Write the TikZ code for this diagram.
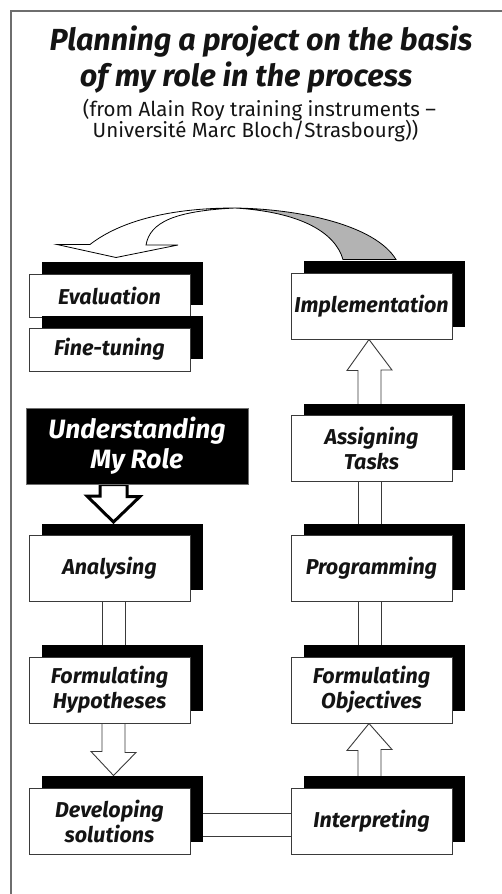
\documentclass[tikz,border=0pt]{standalone}
\usepackage{fontspec}
\setmainfont{Fira Sans}
\usetikzlibrary{calc,shadows}
\pgfdeclarelayer{bg}
\pgfsetlayers{bg,main}
\definecolor{framecol}{HTML}{6E6E6E}
\definecolor{boxline}{HTML}{3A3A3A}
\definecolor{ink}{HTML}{141414}
\definecolor{ribbon}{HTML}{B3B3B3}
\tikzset{
  stepbox/.style={draw=boxline, fill=white, line width=1pt, minimum width=161pt,
    minimum height=66pt, inner sep=0pt, align=center, text=ink,
    font=\fontsize{21.5}{25}\selectfont\bfseries\itshape,
    general shadow={fill=black, shadow xshift=13pt, shadow yshift=12pt}},
  lowbox/.style={stepbox, minimum height=43pt},
  rolebox/.style={draw=framecol, fill=black, line width=1pt, minimum width=222pt,
    minimum height=76pt, inner sep=0pt, align=center, text=white,
    font=\fontsize{26.5}{30}\selectfont\bfseries\itshape},
  titlefont/.style={anchor=base, text=ink, font=\fontsize{30.5}{36}\selectfont\bfseries\itshape},
  subfont/.style={anchor=base, text=ink, font=\fontsize{20.5}{20}\selectfont},
  dline/.style={draw=boxline, line width=0.9pt},
  hollow/.style={draw=boxline, fill=white, line width=0.9pt},
  thickhollow/.style={draw=black, fill=white, line width=3pt},
  ribbonline/.style={draw=black, line width=0.8pt},
}
\begin{document}
\begin{tikzpicture}[x=1pt,y=-1pt]
\useasboundingbox (0,0) rectangle (502,894);
\draw[framecol, line width=2pt] (11,894) -- (11,11) -- (502,11);

% titles
\node[titlefont] (t1) at (261,50) {Planning a project on the basis};
\node[titlefont] (t2) at (246,86) {of my role in the process};
\node[subfont] (s1) at (259.5,116) {(from Alain Roy training instruments –};
\node[subfont] (s2) at (255.5,137) {Université Marc Bloch/Strasbourg))};

% boxes
\node[lowbox] (eval) at (109.5,295.5) {Evaluation};
\node[lowbox] (fine) at (109.5,349.5) {Fine-tuning};
\node[stepbox] (impl) at (371.5,306) {Implementation};
\node[rolebox] (und) at (137,446) {Understanding\\My Role};
\node[stepbox] (assign) at (371.5,448.5) {Assigning\\Tasks};
\node[stepbox] (ana) at (109.5,568.5) {Analysing};
\node[stepbox] (prog) at (371.5,568.5) {Programming};
\node[stepbox] (hyp) at (109.5,690) {Formulating\\Hypotheses};
\node[stepbox] (obj) at (371.5,690) {Formulating\\Objectives};
\node[stepbox] (dev) at (109.5,821) {Developing\\solutions};
\node[stepbox] (interp) at (371.5,821) {Interpreting};

\begin{pgfonlayer}{bg}
% Understanding -> Analysing
\coordinate (tipA) at ($(ana.north)+(4,-13)$);
\draw[thickhollow] (tipA) -- ++(-26.5,-26) -- ++(13,0) -- ([xshift=-37pt]und.south)
  -- ([xshift=-10pt]und.south) -- ++(0,12) -- ++(13,0) -- cycle;
% Analysing = Hypotheses
\draw[dline] ([xshift=-7.5pt]ana.south) -- ([xshift=-7.5pt]hyp.north);
\draw[dline] ([xshift=15.5pt]ana.south) -- ([xshift=15.5pt]hyp.north);
% Hypotheses -> Developing
\coordinate (tipB) at ($(dev.north)+(4,-12)$);
\draw[hollow] (tipB) -- ++(-22.5,-24) -- ++(11,0) -- ([xshift=-7.5pt]hyp.south)
  -- ([xshift=15.5pt]hyp.south) -- ++(0,29) -- ++(11,0) -- cycle;
% Developing = Interpreting
\draw[dline] ([yshift=8pt]dev.east) -- ([yshift=8pt]interp.west);
\draw[dline] ([yshift=-15pt]dev.east) -- ([yshift=-15pt]interp.west);
% Interpreting -> Objectives
\draw[hollow] ([xshift=-2.5pt]obj.south) -- ++(-22,27) -- ++(11,0) -- ([xshift=-13.5pt]interp.north)
  -- ([xshift=9.5pt]interp.north) -- ++(0,-38) -- ++(11,0) -- cycle;
% Objectives = Programming = Assigning
\draw[dline] ([xshift=-13.5pt]prog.south) -- ([xshift=-13.5pt]obj.north);
\draw[dline] ([xshift=9.5pt]prog.south) -- ([xshift=9.5pt]obj.north);
\draw[dline] ([xshift=-13.5pt]assign.south) -- ([xshift=-13.5pt]prog.north);
\draw[dline] ([xshift=9.5pt]assign.south) -- ([xshift=9.5pt]prog.north);
% Assigning -> Implementation
\draw[hollow] ([xshift=-2.5pt]impl.south) -- ++(-22,31) -- ++(11,0) -- ([xshift=-13.5pt]assign.north)
  -- ([xshift=9.5pt]assign.north) -- ++(0,-45) -- ++(11,0) -- cycle;
\end{pgfonlayer}

% Implementation -> Evaluation (ribbon arrow)
\coordinate (g1) at ($(impl.north)+(-28.5,-13)$);
\coordinate (g2) at ($(impl.north)+(24.5,-13)$);
\coordinate (tipC) at ($(eval.north)+(6.5,-16)$);
\coordinate (apex) at (235,208);
\draw[ribbonline, fill=ribbon] (apex) .. controls (300,209) and (375,225) .. (g2)
  -- (g1) .. controls (335,232) and (300,212) .. (apex) -- cycle;
\draw[ribbonline, fill=white] (tipC) -- ++(-59,-13) -- ++(33,0)
  .. controls (115,225) and (160,208) .. (apex)
  .. controls (175,211) and (150,222) .. (146,245) -- ++(32,0) -- cycle;
\end{tikzpicture}
\end{document}
